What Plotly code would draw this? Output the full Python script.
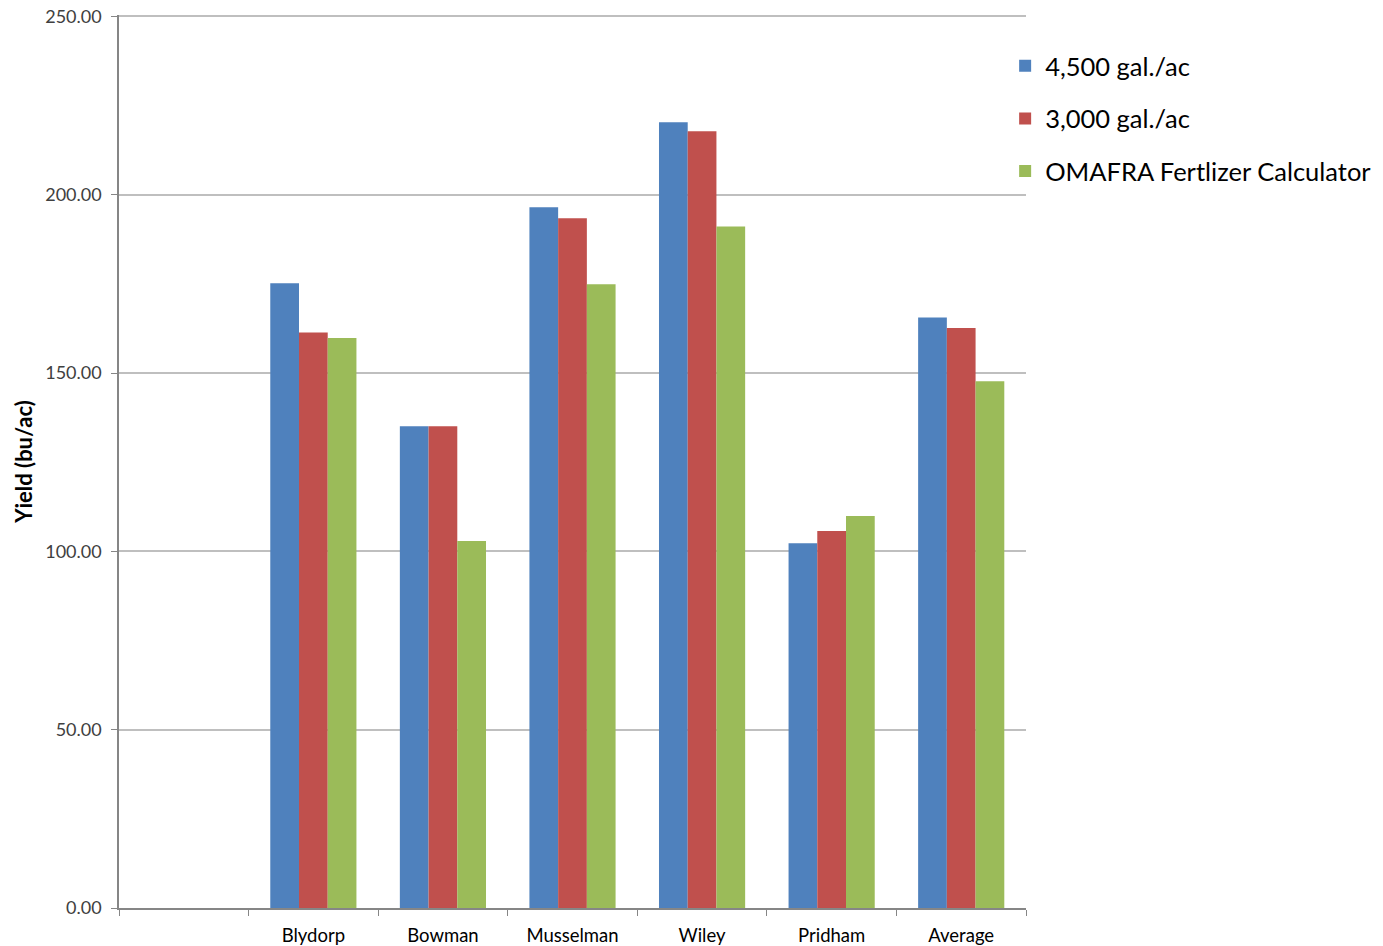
import plotly.graph_objects as go

categories = [" ", "Blydorp", "Bowman", "Musselman", "Wiley", "Pridham", "Average"]
series_names = ["4,500 gal./ac", "3,000 gal./ac", "OMAFRA Fertlizer Calculator"]
vals_4500 = [None, 175.2, 135.1, 196.5, 220.3, 102.3, 165.6]
vals_3000 = [None, 161.4, 135.1, 193.4, 217.8, 105.7, 162.6]
vals_omafra = [None, 159.8, 102.9, 174.9, 191.1, 109.9, 147.7]
colors = ["#4F81BD", "#C0504D", "#9BBB59"]
y_ticks = [0, 50, 100, 150, 200, 250]
y_tick_labels = ["0.00", "50.00", "100.00", "150.00", "200.00", "250.00"]

fig = go.Figure()
for i, (name, vals) in enumerate(zip(series_names, [vals_4500, vals_3000, vals_omafra])):
    fig.add_trace(go.Bar(x=categories, y=vals, name=name, marker_color=colors[i],
                         marker_line_width=0, legendgroup=f"g{i}"))

fig.update_layout(
    width=1383, height=946,
    margin=dict(l=119, r=357, t=15, b=38, autoexpand=False),
    paper_bgcolor="white", plot_bgcolor="white",
    barmode="group", bargap=0.335, bargroupgap=0,
    font=dict(family="Lato, Carlito, 'Open Sans', sans-serif", color="#404040"),
    showlegend=True,
    legend=dict(x=0.977, xanchor="left", y=0.969, yanchor="top",
                font=dict(size=25.5, color="#000000"), traceorder="grouped",
                tracegroupgap=16.5, itemwidth=30, bgcolor="rgba(0,0,0,0)"),
    xaxis=dict(type="category", categoryorder="array", categoryarray=categories,
               tickson="boundaries", ticks="outside", ticklen=6, tickcolor="#868686",
               showline=True, linecolor="#868686", linewidth=1.5, automargin=False,
               ticklabelstandoff=10,
               tickfont=dict(size=18.5, color="#000000"), showgrid=False),
    yaxis=dict(range=[0, 250.4], tickvals=y_ticks, ticktext=y_tick_labels,
               ticks="outside", ticklen=6, tickcolor="#868686", automargin=False,
               showline=True, linecolor="#868686", linewidth=1.5,
               showgrid=True, gridcolor="#BFBFBF", gridwidth=1.5,
               ticklabelstandoff=6,
               tickfont=dict(size=18, color="#404040"), zeroline=False,
               title=dict(text="<b>Yield (bu/ac)</b>", font=dict(size=22, color="#000000"), standoff=6)),
)

fig.write_html("out.html")
